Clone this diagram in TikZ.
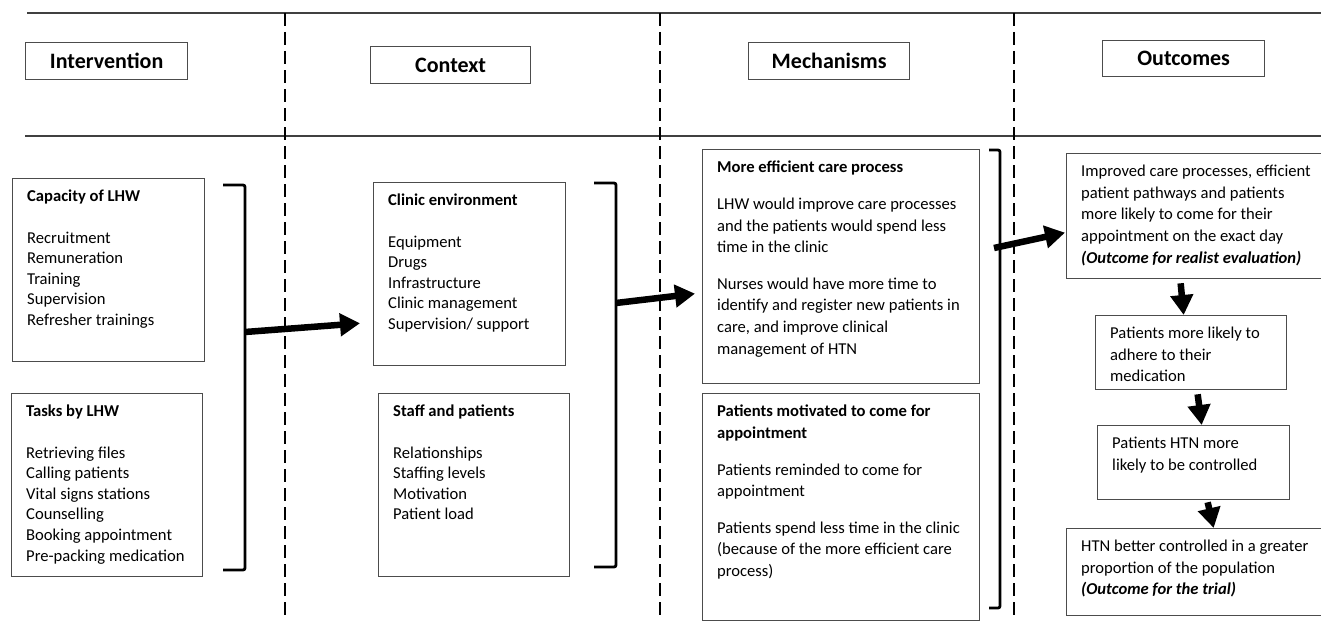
\documentclass[tikz,border=0pt]{standalone}
\usepackage{fontspec}
\setmainfont{Carlito}
\usepackage{tikz}
\usetikzlibrary{calc, arrows.meta}

\begin{document}
\begin{tikzpicture}[x=1pt, y=1pt,
    box/.style={draw=black!70, line width=1.3pt, anchor=north west, inner sep=0pt},
    head/.style={box, font=\fontsize{22}{26}\selectfont\bfseries},
    txt/.style={anchor=north west, xshift=15pt, yshift=-12pt, inner sep=0pt, align=left,
      font=\fontsize{16.6}{20.6}\selectfont},
    wide/.style={font=\fontsize{16.6}{21.6}\selectfont},
    bigarrow/.style={line width=6.5pt, -{Triangle[length=20pt, width=22pt]}},
    bracket/.style={line width=2.8pt, rounded corners=2pt},
    divider/.style={line width=2.2pt, dash pattern=on 13pt off 6pt},
    rule/.style={draw=black!75, line width=1.4pt}
  ]

  % Frame of the page
  \clip (0,0) rectangle (1321,-626);

  % Header rows and column dividers
  \draw[rule] (27,-13) -- (1321,-13);
  \draw[rule] (25,-136) -- (1321,-136);
  \foreach \x in {285,660,1014}
    \draw[divider] (\x,-13) -- (\x,-620);

  % Column heads
  \node[head, minimum width=162, minimum height=37] (hint) at (25,-42) {Intervention};
  \node[head, minimum width=160, minimum height=37] (hctx) at (370,-46) {Context};
  \node[head, minimum width=161, minimum height=37] (hmech) at (748,-42) {Mechanisms};
  \node[head, minimum width=162, minimum height=36] (hout) at (1102,-40) {Outcomes};

  % Intervention
  \node[box, minimum width=192, minimum height=183] (cap) at (12,-178) {};
  \node[txt] (captxt) at (cap.north west) {\textbf{Capacity of LHW}\\[20.6pt]
    Recruitment\\ Remuneration\\ Training\\ Supervision\\ Refresher trainings};
  \node[box, minimum width=191, minimum height=183] (task) at (11,-393) {};
  \node[txt] (tasktxt) at (task.north west) {\textbf{Tasks by LHW}\\[20.6pt]
    Retrieving files\\ Calling patients\\ Vital signs stations\\ Counselling\\
    Booking appointment\\ Pre-packing medication};

  % Context
  \node[box, minimum width=192, minimum height=183] (ctx1) at (373,-182) {};
  \node[txt] (ctx1txt) at (ctx1.north west) {\textbf{Clinic environment}\\[20.6pt]
    Equipment\\ Drugs\\ Infrastructure\\ Clinic management\\ Supervision/ support};
  \node[box, minimum width=191, minimum height=183] (ctx2) at (378,-393) {};
  \node[txt] (ctx2txt) at (ctx2.north west) {\textbf{Staff and patients}\\[20.6pt]
    Relationships\\ Staffing levels\\ Motivation\\ Patient load};

  % Mechanisms
  \node[box, minimum width=277, minimum height=234] (mech1) at (702,-149) {};
  \node[txt, wide] (mech1txt) at (mech1.north west) {\textbf{More efficient care process}\\[15pt]
    LHW would improve care processes\\ and the patients would spend less\\ time in the clinic\\[15pt]
    Nurses would have more time to\\ identify and register new patients in\\
    care, and improve clinical\\ management of HTN};
  \node[box, minimum width=277, minimum height=227] (mech2) at (702,-393) {};
  \node[txt, wide] (mech2txt) at (mech2.north west) {\textbf{Patients motivated to come for}\\
    \textbf{appointment}\\[15pt]
    Patients reminded to come for\\ appointment\\[15pt]
    Patients spend less time in the clinic\\ (because of the more efficient care\\ process)};

  % Outcomes
  \node[box, minimum width=258, minimum height=125] (o1) at (1066,-153) {};
  \node[txt, wide] (o1txt) at (o1.north west) {Improved care processes, efficient\\
    patient pathways and patients\\ more likely to come for their\\
    appointment on the exact day\\ \textbf{\textit{(Outcome for realist evaluation)}}};
  \node[box, minimum width=191, minimum height=74] (o2) at (1095,-315) {};
  \node[txt, wide] (o2txt) at (o2.north west) {Patients more likely to\\ adhere to their\\ medication};
  \node[box, minimum width=192, minimum height=74] (o3) at (1097,-425) {};
  \node[txt, wide] (o3txt) at (o3.north west) {Patients HTN more\\ likely to be controlled};
  \node[box, minimum width=258, minimum height=87] (o4) at (1066,-528) {};
  \node[txt, wide] (o4txt) at (o4.north west) {HTN better controlled in a greater\\
    proportion of the population\\ \textbf{\textit{(Outcome for the trial)}}};

  % Brackets
  \draw[bracket] (223,-185) -- (245,-185) -- (245,-570) -- (223,-570);
  \draw[bracket] (594,-183) -- (616,-183) -- (616,-567) -- (594,-567);
  \draw[bracket] (989,-150) -- (1000,-150) -- (1000,-608) -- (989,-608);
  \coordinate (b1) at (245,-332);
  \coordinate (b2) at (616,-303);
  \coordinate (b3) at (994,-248);

  % Arrows
  \draw[bigarrow] (b1) -- ([shift={(-13,43)}]ctx1.south west);
  \draw[bigarrow] (b2) -- ([shift={(-7,-27)}]mech1.west);
  \draw[bigarrow] (b3) -- ([shift={(-1,-16.5)}]o1.west);
  \draw[bigarrow] ([shift={(-15,-4)}]o1.south) -- ([xshift=-7.5]o2.north);
  \draw[bigarrow] ([shift={(6.5,-4)}]o2.south) -- ([xshift=8]o3.north);
  \draw[bigarrow] ([shift={(14,-2)}]o3.south) -- ([xshift=18]o4.north);

\end{tikzpicture}
\end{document}
